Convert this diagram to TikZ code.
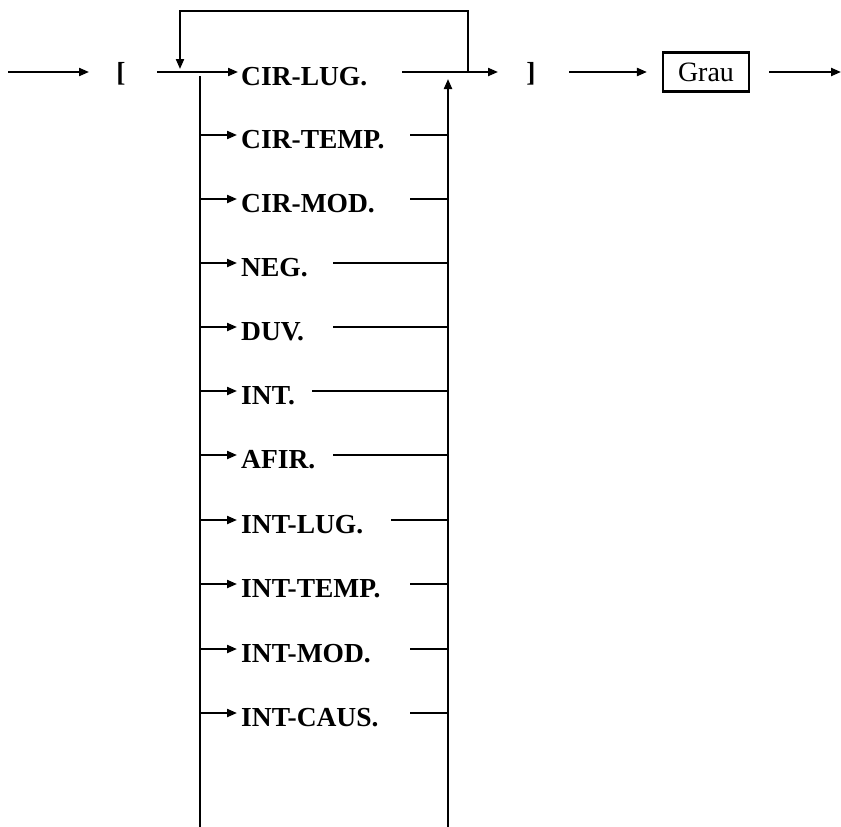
\documentclass[tikz,border=0pt]{standalone}
\usepackage{fontspec}
\setmainfont{Liberation Serif}
\usetikzlibrary{arrows.meta}
\begin{document}
\begin{tikzpicture}[x=1pt,y=-1pt,
  ln/.style={line width=2.1pt},
  arr/.style={ln,-{Triangle[length=10pt,width=8pt]}},
  lbl/.style={inner sep=0pt,anchor=base west,font=\fontsize{27.5}{30}\selectfont\bfseries},
  brk/.style={inner sep=0pt,font=\fontsize{27.5}{30}\selectfont\bfseries},
  box/.style={draw,line width=2.1pt,minimum width=86pt,minimum height=39pt,inner sep=0pt,font=\fontsize{28}{30}\selectfont}]
\useasboundingbox (0,0) rectangle (841,827);
% entry
\coordinate (s0) at (8,72);
\coordinate (s0e) at (89,72);
\node[brk] (lb) at (121,74) {[};
\draw[arr] (s0) -- (s0e);
% main row
\coordinate (in1) at (157,72);
\coordinate (tip1) at (238,72);
\node[lbl] (t1) at (241,85) {CIR-LUG.};
\draw[arr] (in1) -- (tip1);
\coordinate (out1) at (402,72);
\coordinate (tip2) at (498,72);
\node[brk] (rb) at (531,74) {]};
\draw[arr] (out1) -- (tip2);
% feedback loop
\coordinate (fbR) at (468,72);
\coordinate (fbL) at (180,69);
\draw[arr] (fbR) -- (468,11) -- (180,11) -- (fbL);
% Grau
\node[box] (grau) at (706,72) {Grau};
\coordinate (a1) at (569,72);
\draw[arr,shorten >=15pt] (a1) -- (grau.west);
\coordinate (exit) at (841,72);
\draw[arr,shorten <=19pt] (grau.east) -- (exit);
% vertical rails
\coordinate (lvtop) at (200,76);
\coordinate (lvbot) at (200,827);
\draw[ln] (lvtop) -- (lvbot);
\coordinate (rvbot) at (448,827);
\coordinate (rvtop) at (448,79);
\draw[arr] (rvbot) -- (rvtop);
% rows
\foreach \i/\y/\t/\xs in {2/135/CIR-TEMP./410, 3/199/CIR-MOD./410, 4/263/NEG./333, 5/327/DUV./333, 6/391/INT./312, 7/455/AFIR./333, 8/520/INT-LUG./391, 9/584/INT-TEMP./410, 10/649/INT-MOD./410, 11/713/INT-CAUS./410}{
  \coordinate (lv\i) at (200,\y);
  \coordinate (la\i) at (237,\y);
  \node[lbl] (t\i) at (241,\y+13) {\t};
  \draw[arr] (lv\i) -- (la\i);
  \coordinate (rs\i) at (\xs,\y);
  \coordinate (rv\i) at (448,\y);
  \draw[ln] (rs\i) -- (rv\i);
}
\end{tikzpicture}
\end{document}
